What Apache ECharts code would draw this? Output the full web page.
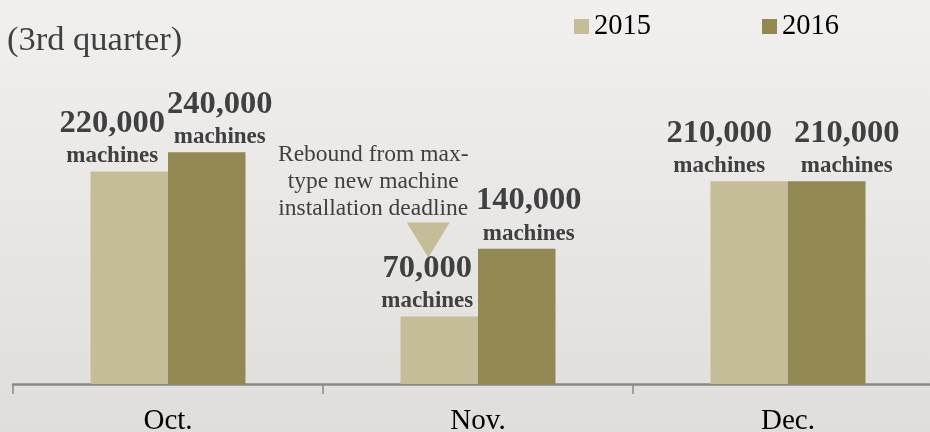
<!DOCTYPE html>
<html><head><meta charset="utf-8">
<script src="https://cdn.jsdelivr.net/npm/echarts@6/dist/echarts.min.js"></script>
<style>html,body{margin:0;padding:0;}#c{width:930px;height:432px;}</style>
</head><body><div id="c"></div>
<script>
const categories = ['Oct.', 'Nov.', 'Dec.'];
const seriesNames = ['2015', '2016'];
const values2015 = [220000, 70000, 210000];
const values2016 = [240000, 140000, 210000];
const unitText = 'machines';
const titleText = '(3rd quarter)';
const noteText = 'Rebound from max-\ntype new machine\ninstallation deadline';

const SERIF = '"Liberation Serif","Times New Roman",serif';
const colors = ['#c5bd98', '#928952'];
const labelDx = [[-17, -12, -30], [13, 12, 20]];

function fmt(v){ return v.toLocaleString('en-US'); }

function mkSeries(name, vals, idx){
  return {
    name: name, type: 'bar', barWidth: 77.5, barGap: '0%',
    itemStyle: { color: colors[idx] },
    data: vals.map((v, i) => ({
      value: v,
      label: { show: true, position: 'top', distance: 2, offset: [labelDx[idx][i], 0],
        formatter: p => '{n|' + fmt(p.value) + '}\n{u|' + unitText + '}',
        rich: {
          n: { fontFamily: SERIF, fontWeight: 'bold', fontSize: 32.5, lineHeight: 40, color: '#404040', align: 'center' },
          u: { fontFamily: SERIF, fontWeight: 'bold', fontSize: 23, lineHeight: 26, color: '#404040', align: 'center' }
        }
      }
    }))
  };
}

const chart = echarts.init(document.getElementById('c'));
const option = {
  animation: false,
  backgroundColor: { type: 'linear', x: 0, y: 0, x2: 0, y2: 1,
    colorStops: [{ offset: 0, color: '#f1f0ef' }, { offset: 1, color: '#e0dedb' }] },
  title: { text: titleText, left: 2, top: 18,
    textStyle: { fontFamily: SERIF, fontWeight: 'normal', fontSize: 34.5, color: '#404040' } },
  legend: { data: seriesNames, left: 569, top: 7, itemWidth: 15, itemHeight: 15, itemGap: 111,
    icon: 'rect', textStyle: { fontFamily: SERIF, fontSize: 28.5, color: '#000' } },
  grid: { left: 13, width: 930, top: 94.2, bottom: 48, outerBoundsMode: 'none', containLabel: false },
  xAxis: { type: 'category', data: categories,
    axisLine: { lineStyle: { color: '#898989', width: 2.5 } },
    axisTick: { show: true, alignWithLabel: false, length: 10, lineStyle: { color: '#898989', width: 1.5 } },
    axisLabel: { fontFamily: SERIF, fontSize: 29, color: '#000', margin: 23 } },
  yAxis: { type: 'value', min: 0, max: 300000, show: false, splitLine: { show: false } },
  series: [mkSeries(seriesNames[0], values2015, 0), mkSeries(seriesNames[1], values2016, 1)]
};
chart.setOption(option);

// annotation tied to the Nov. 2015 bar
const p = chart.convertToPixel({ gridIndex: 0 }, ['Nov.', values2015[1]]);
const barCx = p[0] - 77.5 / 2;
const tipX = barCx - 11, tipY = p[1] - 59;
chart.setOption({ graphic: [
  { type: 'polygon', shape: { points: [[tipX - 21.5, tipY - 35], [tipX + 21.5, tipY - 35], [tipX, tipY]] },
    style: { fill: colors[0] } },
  { type: 'text', x: barCx - 66, y: tipY - 116,
    style: { text: noteText, fontFamily: SERIF, fontSize: 23.5, lineHeight: 27, fill: '#404040', align: 'center' } }
]});
</script></body></html>
